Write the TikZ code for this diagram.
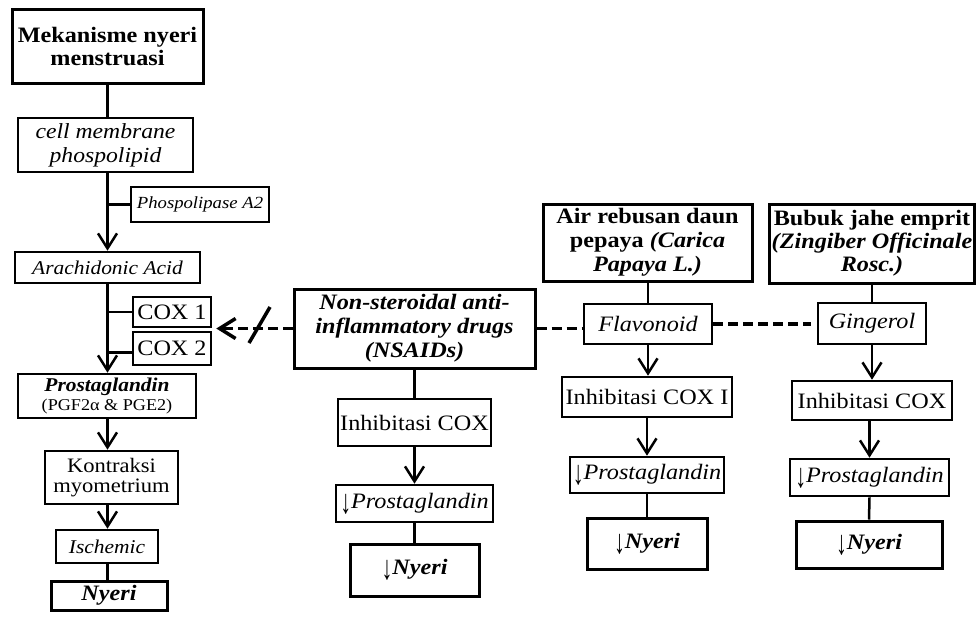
\documentclass[tikz,border=0pt]{standalone}
\usepackage{fontspec}
\setmainfont{Liberation Serif}[FakeStretch=1.1]
\usetikzlibrary{arrows.meta}
\newcommand\myfs[2]{\fontsize{#1}{#2}\selectfont}
\newcommand\dnarr{\textnormal{\raisebox{-0.22em}{\scalebox{0.9}[1.55]{↓}}}}
\tikzset{
  box/.style={draw, rectangle, line width=2.6pt, inner sep=0pt, align=center},
  hbox/.style={box, line width=3pt},
  sz/.style 2 args={minimum width=#1pt, minimum height=#2pt},
  conn/.style={line width=2.5pt},
  arr/.style={conn, -{Straight Barb[length=15pt,width=19pt]}},
  dsh/.style={line width=3.5pt, dash pattern=on 10pt off 5pt},
}
\begin{document}
\begin{tikzpicture}[x=1pt,y=-1pt]
\useasboundingbox (0,0) rectangle (976,619);
% left column
\node[hbox, sz={191}{74}, font=\bfseries\myfs{22}{23}] (mek) at (107.5,46) {Mekanisme nyeri\\menstruasi};
\node[box, sz={175}{54}, font=\itshape\myfs{21.5}{24}] (cell) at (105.5,145) {cell membrane\\phospolipid};
\node[box, sz={138}{35}, font=\itshape\myfs{17}{20}] (phos) at (200,204.5) {Phospolipase A2};
\node[box, sz={185}{31}, font=\itshape\myfs{19.5}{22}] (arach) at (107.5,267.5) {Arachidonic Acid};
\node[box, sz={78}{30}, font=\myfs{22}{24}] (cox1) at (172,312) {COX 1};
\node[box, sz={78}{33}, font=\myfs{22}{24}] (cox2) at (172,348.5) {COX 2};
\node[box, sz={178}{44}, font=\myfs{16.5}{19}] (prosta) at (107,396) {{\bfseries\itshape\myfs{19.5}{19}Prostaglandin}\\(PGF2α \& PGE2)};
\node[box, sz={133}{53}, font=\myfs{20.5}{20}] (kontr) at (111.5,477.5) {Kontraksi\\myometrium};
\node[box, sz={102}{33}, font=\itshape\myfs{19.5}{22}] (isch) at (107,546.5) {Ischemic};
\node[hbox, sz={116}{29}, font=\bfseries\itshape\myfs{22}{24}] (nyeri) at (109,595.5) {Nyeri};
% NSAIDs column
\node[hbox, sz={241}{79}, font=\bfseries\itshape\myfs{22}{24}] (nsaid) at (414.5,328.5) {Non-steroidal anti-\\inflammatory drugs\\(NSAIDs)};
\node[box, sz={153}{47}, font=\myfs{22}{24}] (inh1) at (414.5,422.5) {Inhibitasi COX};
\node[box, sz={157}{37}, font=\itshape\myfs{22}{24}] (dprost1) at (414.5,503.5) {\dnarr Prostaglandin};
\node[hbox, sz={129}{52}, font=\bfseries\itshape\myfs{22}{24}] (dnyeri1) at (414.5,570) {\dnarr Nyeri};
% papaya column
\node[hbox, sz={209}{77}, font=\bfseries\myfs{22}{24}] (air) at (647.5,242.5) {Air rebusan daun\\pepaya \textit{(Carica}\\\textit{Papaya L.)}};
\node[box, sz={128}{40}, font=\itshape\myfs{22}{24}] (flav) at (648,324) {Flavonoid};
\node[box, sz={170}{40}, font=\myfs{22}{24}] (inh2) at (647,397) {Inhibitasi COX I};
\node[box, sz={154}{36}, font=\itshape\myfs{22}{24}] (dprost2) at (647,475) {\dnarr Prostaglandin};
\node[hbox, sz={120}{51}, font=\bfseries\itshape\myfs{22}{24}] (dnyeri2) at (647,543.5) {\dnarr Nyeri};
% ginger column
\node[hbox, sz={205}{79}, font=\bfseries\myfs{22}{23}] (bubuk) at (872,243.5) {Bubuk jahe emprit\\\textit{(Zingiber Officinale}\\\textit{Rosc.)}};
\node[box, sz={108}{41}, font=\itshape\myfs{22}{24}] (ging) at (872,323.5) {Gingerol};
\node[box, sz={160}{39}, font=\myfs{22}{24}] (inh3) at (872,400.5) {Inhibitasi COX};
\node[box, sz={159}{37}, font=\itshape\myfs{22}{24}] (dprost3) at (869.5,477.5) {\dnarr Prostaglandin};
\node[hbox, sz={146}{47}, font=\bfseries\itshape\myfs{22}{24}] (dnyeri3) at (869,544.5) {\dnarr Nyeri};
% left connectors
\draw[conn] (mek.south) -- (mek.south |- cell.north);
\draw[arr] (cell.south -| mek.south) -- (arach.north -| mek.south);
\draw[conn] (phos.west) -- (phos.west -| mek.south);
\draw[arr] (arach.south -| mek.south) -- (prosta.north -| mek.south);
\draw[conn] (cox1.west) -- (cox1.west -| mek.south);
\draw[conn] ([yshift=-4pt]cox2.west) -- ([yshift=-4pt]cox2.west -| mek.south);
\draw[arr] (prosta.south -| mek.south) -- (kontr.north -| mek.south);
\draw[arr] (kontr.south -| mek.south) -- (isch.north -| mek.south);
\draw[conn] (isch.south -| mek.south) -- (nyeri.north -| mek.south);
% NSAIDs connectors
\draw[conn] (nsaid.south) -- (inh1.north);
\draw[arr] (inh1.south) -- (dprost1.north);
\draw[conn] (dprost1.south) -- (dnyeri1.north);
\coordinate (tip) at ([xshift=4pt]nsaid.west -| cox1.east);
\draw[dsh, -{Straight Barb[length=16pt,width=20pt]}] (nsaid.west) -- (tip);
\draw[line width=3.5pt] (249,343) -- (270,307);
\draw[dsh] (nsaid.east) -- (nsaid.east -| flav.west);
\draw[dsh, shorten >=6pt] (flav.east) -- (flav.east -| ging.west);
% papaya connectors
\draw[conn] (air.south -| flav.north) -- (flav.north);
\draw[arr] (flav.south) -- (flav.south |- inh2.north);
\draw[arr] (inh2.south) -- (dprost2.north);
\draw[conn] (dprost2.south) -- (dnyeri2.north);
% ginger connectors
\draw[conn] (bubuk.south) -- (ging.north);
\draw[arr] (ging.south) -- (inh3.north);
\draw[arr] (inh3.south -| dprost3.north) -- (dprost3.north);
\draw[conn] (dprost3.south) -- (dnyeri3.north);
\end{tikzpicture}
\end{document}
